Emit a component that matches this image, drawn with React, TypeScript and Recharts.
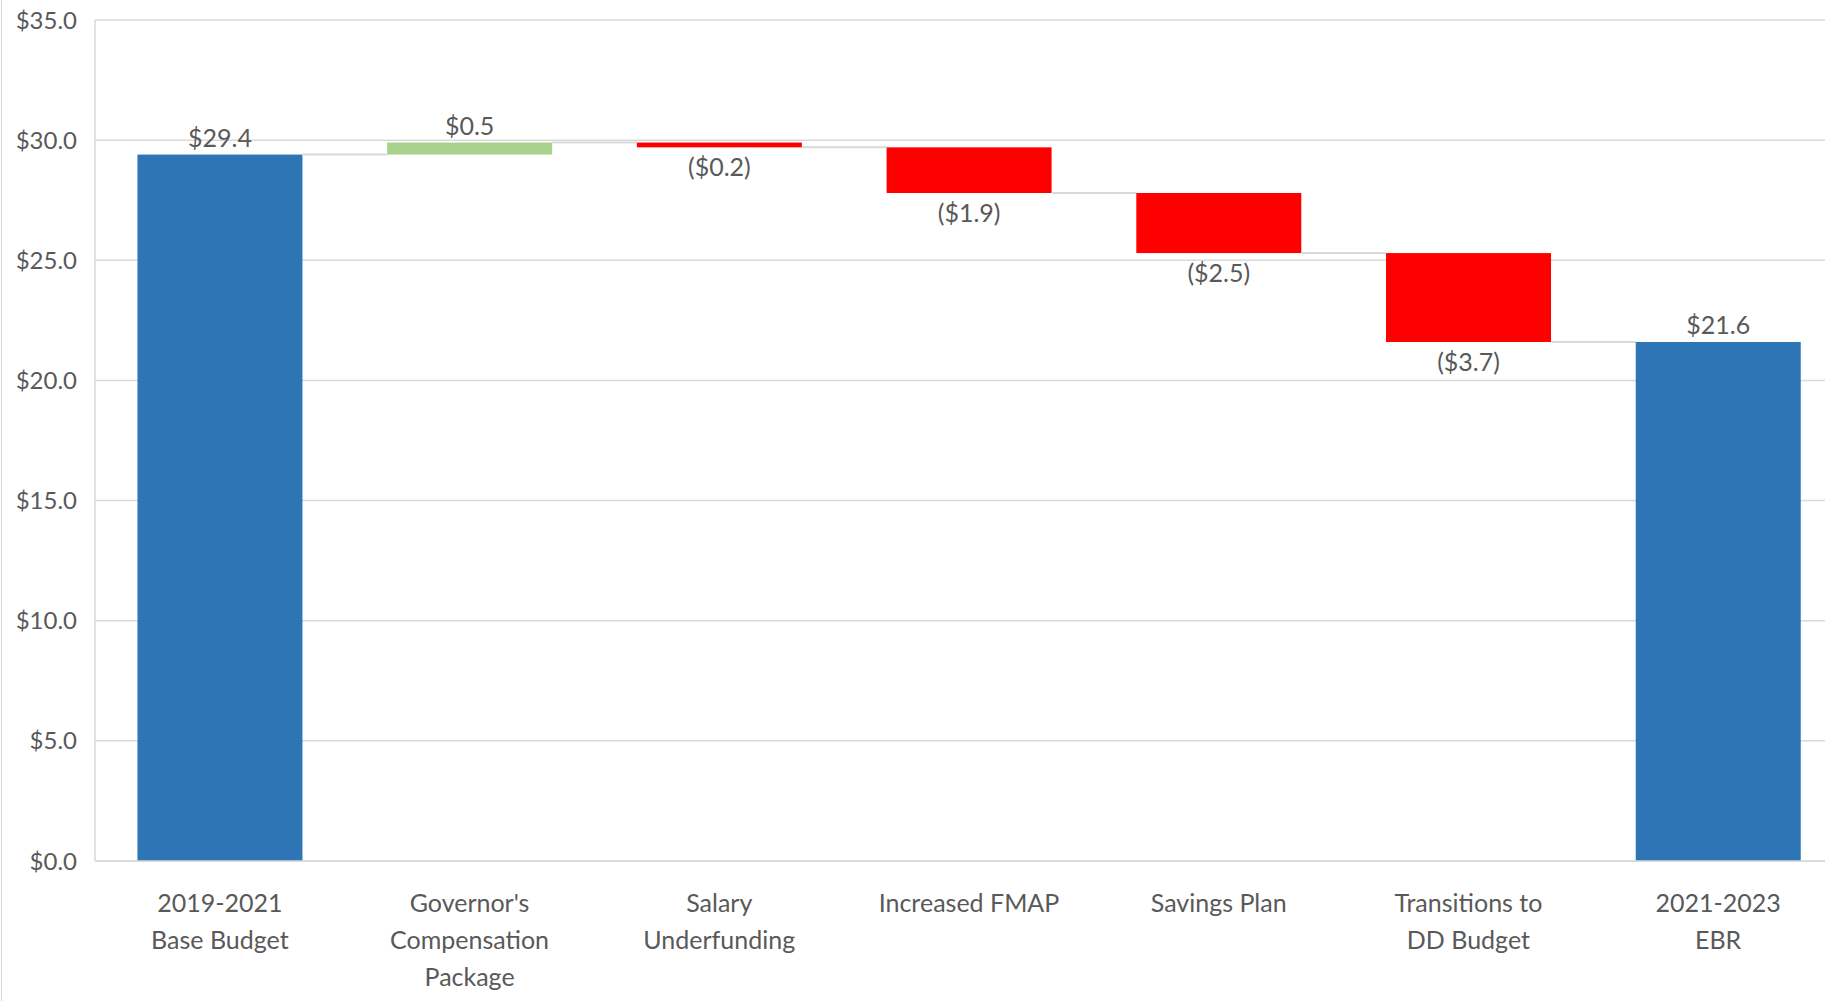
import { BarChart, Bar, XAxis, YAxis, CartesianGrid, LabelList } from 'recharts';

const categories = [
  '2019-2021\nBase Budget',
  "Governor's\nCompensation\nPackage",
  'Salary\nUnderfunding',
  'Increased FMAP',
  'Savings Plan',
  'Transitions to\nDD Budget',
  '2021-2023\nEBR',
];
const changes = [29.4, 0.5, -0.2, -1.9, -2.5, -3.7, 21.6];
const isTotal = [true, false, false, false, false, false, true];
const yTicks = [0, 5, 10, 15, 20, 25, 30, 35];

const BLUE = '#2E75B6';
const GREEN = '#A9D18E';
const RED = '#FF0000';
const TEXT = '#595959';
const GRID = '#D9D9D9';
const FONT = 'Lato, "Open Sans", sans-serif';
const GAP = 0.17;

// floating base + visible step, built from the arrays above
let running = 0;
const data = categories.map((name, i) => {
  const v = changes[i];
  if (isTotal[i]) {
    running = v;
    return { name, base: 0, size: v, change: v, total: true, last: i === categories.length - 1 };
  }
  const start = running;
  running += v;
  return { name, base: Math.min(start, running), size: Math.abs(v), change: v, total: false, last: false };
});

const money = (v: number) => (v < 0 ? `($${Math.abs(v).toFixed(1)})` : `$${v.toFixed(1)}`);

const StepShape = (props: any) => {
  const { x, y, width, height, payload } = props;
  const fill = payload.total ? BLUE : payload.change >= 0 ? GREEN : RED;
  const endY = payload.change >= 0 ? y : y + height;
  const gap = (width * 2 * GAP) / (1 - 2 * GAP);
  return (
    <g>
      <rect x={x} y={y} width={width} height={height} fill={fill} />
      {!payload.last && (
        <line x1={x + width} x2={x + width + gap} y1={endY} y2={endY} stroke={GRID} strokeWidth={2} />
      )}
    </g>
  );
};

const ValueLabel = (props: any) => {
  const vb = props.viewBox || {};
  const x = props.x ?? vb.x;
  const y = props.y ?? vb.y;
  const width = props.width ?? vb.width;
  const height = props.height ?? vb.height;
  const v = Number(props.value);
  const ty = v < 0 ? y + height + 29 : y - 8;
  return (
    <text x={x + width / 2} y={ty} textAnchor="middle" fill={TEXT} fontSize={25} fontFamily={FONT}>
      {money(v)}
    </text>
  );
};

const CategoryTick = (props: any) => {
  const { x, y, payload } = props;
  const lines = String(payload.value).split('\n');
  return (
    <text x={x} y={y} textAnchor="middle" fill={TEXT} fontSize={25} fontFamily={FONT}>
      {lines.map((l, i) => (
        <tspan key={i} x={x} dy={i === 0 ? 51 : 37}>
          {l}
        </tspan>
      ))}
    </text>
  );
};

export default function App() {
  return (
    <div
      style={{
        position: 'absolute',
        left: 0,
        top: 0,
        width: 1825,
        height: 1001,
        overflow: 'hidden',
        background: '#fff',
      }}
    >
      <div style={{ position: 'absolute', left: 1, top: 0, width: 1, height: 1001, background: GRID }} />
      <BarChart
        width={1845}
        height={1001}
        data={data}
        margin={{ top: 20, right: 2, left: 0, bottom: 0 }}
        barCategoryGap={`${GAP * 100}%`}
      >
        <CartesianGrid vertical={false} stroke={GRID} strokeWidth={1.5} />
        <XAxis
          dataKey="name"
          interval={0}
          height={140}
          tickLine={false}
          tickSize={0}
          tickMargin={0}
          axisLine={{ stroke: GRID, strokeWidth: 1.5 }}
          tick={<CategoryTick />}
        />
        <YAxis
          width={95}
          domain={[0, 35]}
          ticks={yTicks}
          interval={0}
          tickLine={false}
          tickSize={0}
          tickMargin={18}
          axisLine={{ stroke: GRID, strokeWidth: 1.5 }}
          tickFormatter={(v: number) => money(v)}
          tick={{ fill: TEXT, fontSize: 24, fontFamily: FONT }}
        />
        <Bar dataKey="base" stackId="w" fill="transparent" isAnimationActive={false} />
        <Bar dataKey="size" stackId="w" shape={StepShape} isAnimationActive={false}>
          <LabelList dataKey="change" content={ValueLabel} />
        </Bar>
      </BarChart>
    </div>
  );
}
